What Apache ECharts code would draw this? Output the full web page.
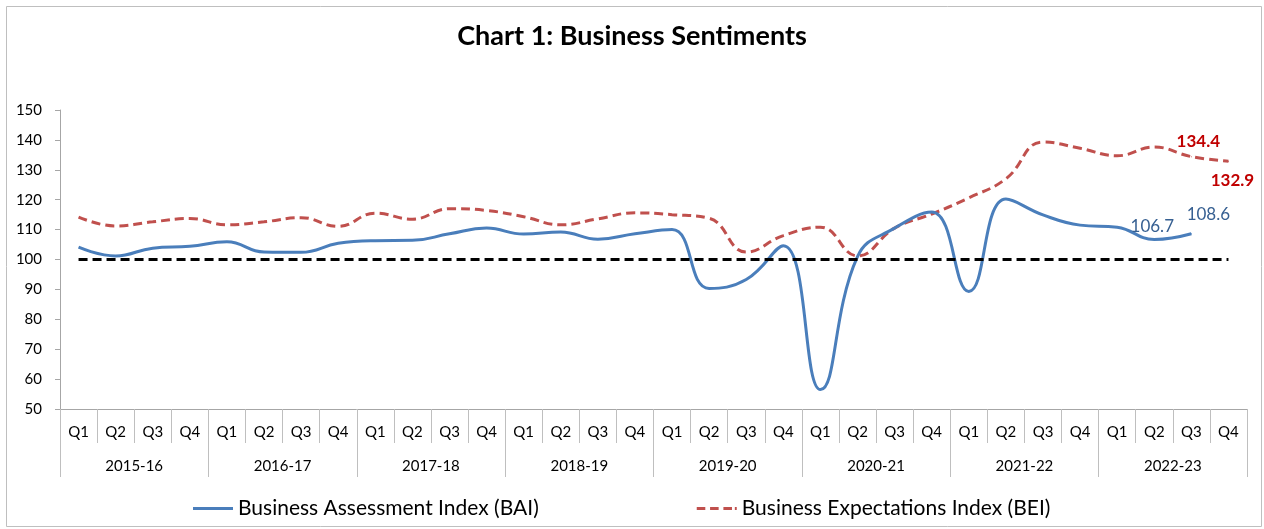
<!DOCTYPE html>
<html>
<head>
<meta charset="utf-8">
<title>Chart 1: Business Sentiments</title>
<script src="https://cdn.jsdelivr.net/npm/echarts@6/dist/echarts.min.js"></script>
<style>
    html, body {margin: 0; padding: 0; background: #fff;}
    #chart {width: 1264px; height: 529px;}
</style>
</head>
<body>
<div id="chart"></div>
<script>
// quarters and financial years for the two-level x axis
var quarters = ['Q1', 'Q2', 'Q3', 'Q4', 'Q1', 'Q2', 'Q3', 'Q4', 'Q1', 'Q2', 'Q3', 'Q4', 'Q1', 'Q2', 'Q3', 'Q4',
    'Q1', 'Q2', 'Q3', 'Q4', 'Q1', 'Q2', 'Q3', 'Q4', 'Q1', 'Q2', 'Q3', 'Q4', 'Q1', 'Q2', 'Q3', 'Q4'];
var years = ['2015-16', '2016-17', '2017-18', '2018-19', '2019-20', '2020-21', '2021-22', '2022-23'];

// Business Assessment Index (last quarter not yet available)
var bai = [104.1, 101.2, 103.8, 104.4, 105.9, 102.5, 102.4, 105.4,
    106.3, 106.4, 108.6, 110.5, 108.5, 109.2, 106.8, 108.6,
    110.0, 90.3, 93.3, 104.6, 56.5, 101.0, 110.5, 115.9,
    89.3, 120.2, 114.9, 111.5, 110.8, 106.7, 108.6, null];
// Business Expectations Index
var bei = [114.2, 111.2, 112.6, 113.7, 111.6, 112.6, 114.0, 111.1,
    115.5, 113.5, 117.0, 116.4, 114.3, 111.6, 113.6, 115.6,
    115.0, 113.8, 102.5, 108.0, 110.8, 101.2, 110.5, 115.2,
    120.6, 127.0, 139.3, 137.2, 134.7, 137.6, 134.4, 132.9];
var yTicks = {min: 50, max: 150, step: 10};
var threshold = 100;

var font = 'Lato';

// value labels shown only on the latest points
var baiLabels = {
    29: {position: 'top', distance: 4, offset: [-2, 0]},
    30: {position: 'top', distance: 4, offset: [17, -6]}
};
var beiLabels = {
    30: {position: 'top', distance: 4, offset: [7, -2], color: '#C00000', fontWeight: 'bold'},
    31: {position: 'bottom', distance: 6, offset: [4, 4], color: '#C00000', fontWeight: 'bold'}
};

function withLabels(values, labels, base) {
    return values.map(function (v, i) {
        if (!labels[i]) return v;
        var lb = Object.assign({show: true, fontFamily: font, fontSize: 17}, base, labels[i]);
        return {value: v, symbol: 'circle', symbolSize: 1, label: lb};
    });
}

// legend icons: solid and dashed strokes
var solidIcon = 'path://M0,0h40v3h-40z';
var dashedIcon = 'path://M0,0h9v3h-9z M14,0h9v3h-9z M28,0h9v3h-9z M40,0h2v3h-2z';

var chart = echarts.init(document.getElementById('chart'));
var option = {
    animation: false,
    backgroundColor: '#fff',
    textStyle: {fontFamily: font},
    title: {
        text: 'Chart 1: Business Sentiments',
        left: 'center',
        top: 18,
        textStyle: {fontFamily: font, fontSize: 27, fontWeight: 'bold', color: '#000'}
    },
    graphic: [{
        type: 'rect',
        shape: {x: 6.5, y: 6.5, width: 1255, height: 520},
        style: {fill: 'none', stroke: '#bfbfbf', lineWidth: 1},
        silent: true
    }],
    legend: {
        bottom: 5,
        left: 188,
        itemWidth: 40,
        itemHeight: 3,
        itemGap: 158,
        textStyle: {fontFamily: font, fontSize: 21, color: '#000'},
        data: [
            {name: 'Business Assessment Index (BAI)', icon: solidIcon},
            {name: 'Business Expectations Index (BEI)', icon: dashedIcon}
        ]
    },
    grid: {left: 60, right: 17, top: 110, bottom: 120},
    xAxis: [{
        type: 'category',
        data: quarters,
        boundaryGap: true,
        axisLine: {show: true, lineStyle: {color: '#a6a6a6', width: 1}},
        axisTick: {show: true, interval: 0, length: 34, lineStyle: {color: '#bfbfbf'}},
        axisLabel: {interval: 0, margin: 16, fontFamily: font, fontSize: 15, color: '#000'}
    }, {
        type: 'category',
        data: years,
        position: 'bottom',
        boundaryGap: true,
        axisLine: {show: false},
        axisTick: {show: true, interval: 0, length: 68, lineStyle: {color: '#bfbfbf'}},
        axisLabel: {interval: 0, margin: 50, fontFamily: font, fontSize: 15, color: '#000'}
    }],
    yAxis: {
        type: 'value',
        min: yTicks.min,
        max: yTicks.max,
        interval: yTicks.step,
        axisLine: {show: true, lineStyle: {color: '#a6a6a6'}},
        axisTick: {show: true, length: 5, lineStyle: {color: '#a6a6a6'}},
        splitLine: {show: false},
        axisLabel: {margin: 18, fontFamily: font, fontSize: 15, color: '#000'}
    },
    series: [{
        name: 'Business Assessment Index (BAI)',
        type: 'line',
        xAxisIndex: 0,
        smooth: 0.45,
        symbol: 'none',
        lineStyle: {color: '#4A7EBB', width: 3},
        itemStyle: {color: '#4A7EBB'},
        data: withLabels(bai, baiLabels, {color: '#376092'}),
        markLine: {
            silent: true,
            symbol: 'none',
            label: {show: false},
            lineStyle: {color: '#000', width: 3, type: [9, 5]},
            data: [[{coord: [0, threshold]}, {coord: [quarters.length - 1, threshold]}]]
        },
        z: 3
    }, {
        name: 'Business Expectations Index (BEI)',
        type: 'line',
        xAxisIndex: 0,
        smooth: 0.45,
        symbol: 'none',
        lineStyle: {color: '#C0504D', width: 3, type: [9, 5]},
        itemStyle: {color: '#C0504D'},
        data: withLabels(bei, beiLabels, {}),
        z: 2
    }]
};
chart.setOption(option);
</script>
</body>
</html>
